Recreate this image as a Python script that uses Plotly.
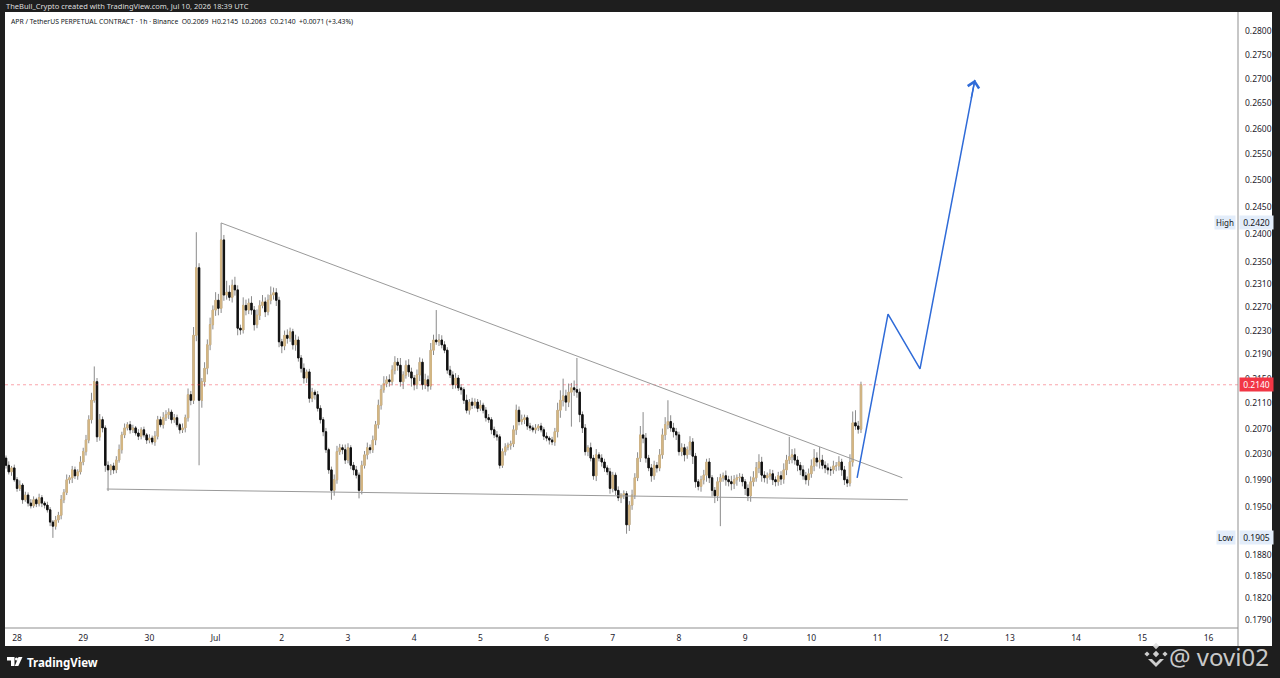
import numpy as np
import pandas as pd
import plotly.graph_objects as go

# APR/USDT perp, 1h candles, Jun 27 20:00 -> Jul 10 18:00 (UTC)
start_time = "2026-06-27 20:00"
first_open = 0.2024

closes = [
    0.2013, 0.2003, 0.2009, 0.1991, 0.1978, 0.1983, 0.1961, 0.1968, 0.1956, 0.1952,
    0.1961, 0.1955, 0.1964, 0.1956, 0.1953, 0.1946, 0.1928, 0.1922, 0.1931, 0.1938,
    0.1961, 0.1972, 0.1991, 0.1994, 0.2006, 0.1997, 0.2003, 0.2018, 0.2034, 0.2052,
    0.2084, 0.2115, 0.2145, 0.2057, 0.2084, 0.2071, 0.2013, 0.2006, 0.2012, 0.2006,
    0.2021, 0.2037, 0.2060, 0.2071, 0.2076, 0.2068, 0.2071, 0.2063, 0.2058, 0.2068,
    0.2060, 0.2052, 0.2055, 0.2049, 0.2058, 0.2084, 0.2076, 0.2087, 0.2092, 0.2096,
    0.2084, 0.2087, 0.2076, 0.2068, 0.2071, 0.2087, 0.2124, 0.2115, 0.2222, 0.2339,
    0.2115, 0.2145, 0.2167, 0.2206, 0.2240, 0.2265, 0.2282, 0.2268, 0.2389, 0.2291,
    0.2296, 0.2287, 0.2308, 0.2300, 0.2234, 0.2231, 0.2273, 0.2265, 0.2277, 0.2265,
    0.2240, 0.2256, 0.2273, 0.2279, 0.2262, 0.2282, 0.2291, 0.2295, 0.2282, 0.2211,
    0.2204, 0.2222, 0.2217, 0.2228, 0.2206, 0.2214, 0.2184, 0.2167, 0.2151, 0.2161,
    0.2118, 0.2128, 0.2124, 0.2102, 0.2084, 0.2065, 0.2037, 0.2006, 0.1975, 0.1991,
    0.2034, 0.2040, 0.2037, 0.2021, 0.2040, 0.2013, 0.2006, 0.1998, 0.1975, 0.2013,
    0.2029, 0.2040, 0.2037, 0.2052, 0.2076, 0.2107, 0.2132, 0.2142, 0.2148, 0.2145,
    0.2164, 0.2177, 0.2172, 0.2145, 0.2156, 0.2172, 0.2161, 0.2151, 0.2140, 0.2156,
    0.2177, 0.2140, 0.2148, 0.2138, 0.2197, 0.2214, 0.2211, 0.2214, 0.2206, 0.2197,
    0.2164, 0.2156, 0.2140, 0.2151, 0.2135, 0.2132, 0.2115, 0.2099, 0.2112, 0.2107,
    0.2112, 0.2102, 0.2107, 0.2099, 0.2087, 0.2084, 0.2068, 0.2060, 0.2057, 0.2013,
    0.2034, 0.2041, 0.2044, 0.2046, 0.2068, 0.2099, 0.2081, 0.2084, 0.2087, 0.2074,
    0.2071, 0.2068, 0.2071, 0.2074, 0.2068, 0.2058, 0.2055, 0.2052, 0.2049, 0.2065,
    0.2099, 0.2115, 0.2122, 0.2112, 0.2128, 0.2135, 0.2132, 0.2128, 0.2092, 0.2071,
    0.2034, 0.2040, 0.2024, 0.1997, 0.2029, 0.2024, 0.2018, 0.2009, 0.2003, 0.1978,
    0.1998, 0.1975, 0.1964, 0.1968, 0.1970, 0.1924, 0.1953, 0.1968, 0.1994, 0.2024,
    0.2060, 0.2055, 0.2024, 0.2009, 0.1997, 0.2013, 0.2009, 0.2029, 0.2060, 0.2076,
    0.2081, 0.2071, 0.2065, 0.2060, 0.2034, 0.2040, 0.2029, 0.2037, 0.2049, 0.2027,
    0.1988, 0.1981, 0.1991, 0.1998, 0.2018, 0.1994, 0.1975, 0.1967, 0.1988, 0.1994,
    0.1997, 0.1991, 0.1988, 0.1985, 0.1991, 0.1994, 0.1995, 0.1988, 0.1978, 0.1967,
    0.1988, 0.1994, 0.2009, 0.2018, 0.1998, 0.1994, 0.1997, 0.2000, 0.1991, 0.1988,
    0.1997, 0.1992, 0.2006, 0.2021, 0.2026, 0.2029, 0.2021, 0.2013, 0.2006, 0.1997,
    0.1991, 0.2000, 0.2012, 0.2024, 0.2018, 0.2021, 0.2013, 0.2009, 0.2006, 0.2006,
    0.2012, 0.2012, 0.2018, 0.2006, 0.1991, 0.1986, 0.2018, 0.2079, 0.2074, 0.2069,
    0.2140,
]

# wick lengths above / below the body, in units of 0.0001
wick_up = [
    4, 6, 3, 5, 4, 7, 3, 5, 4, 6,
    5, 3, 6, 4, 3, 5, 4, 3, 6, 5,
    7, 5, 8, 4, 6, 5, 4, 9, 6, 8,
    7, 12, 25, 6, 9, 5, 4, 6, 3, 5,
    6, 8, 5, 7, 4, 6, 5, 3, 6, 4,
    5, 3, 6, 4, 8, 6, 5, 9, 7, 6,
    4, 6, 5, 3, 7, 5, 10, 6, 14, 64,
    8, 6, 10, 9, 12, 8, 14, 11, 31, 9,
    20, 12, 10, 15, 8, 6, 14, 10, 8, 12,
    7, 10, 9, 12, 8, 10, 15, 9, 8, 6,
    5, 8, 10, 7, 5, 9, 6, 5, 8, 4,
    5, 7, 4, 6, 5, 4, 6, 3, 5, 8,
    9, 6, 5, 8, 7, 4, 5, 6, 4, 7,
    6, 8, 5, 7, 6, 9, 8, 12, 6, 9,
    8, 10, 7, 12, 6, 8, 10, 7, 5, 9,
    8, 6, 10, 7, 12, 9, 51, 10, 8, 6,
    5, 7, 6, 8, 5, 6, 4, 9, 5, 7,
    6, 5, 8, 4, 5, 6, 4, 5, 6, 4,
    5, 6, 4, 5, 7, 9, 6, 8, 5, 4,
    5, 4, 6, 3, 5, 4, 6, 3, 5, 6,
    12, 16, 28, 10, 14, 8, 12, 52, 6, 5,
    6, 4, 8, 5, 9, 4, 6, 5, 4, 6,
    5, 4, 6, 3, 5, 4, 6, 8, 7, 9,
    14, 36, 8, 5, 6, 7, 5, 9, 10, 12,
    34, 10, 8, 6, 5, 7, 6, 5, 9, 6,
    5, 4, 6, 8, 5, 6, 4, 5, 7, 6,
    5, 8, 6, 9, 7, 5, 6, 5, 4, 6,
    8, 10, 9, 12, 8, 6, 5, 7, 6, 5,
    6, 7, 10, 8, 31, 9, 10, 6, 5, 7,
    6, 8, 10, 14, 9, 20, 8, 6, 7, 5,
    8, 6, 9, 5, 6, 5, 12, 18, 20, 8,
    5,
]
wick_dn = [
    5, 4, 6, 3, 5, 4, 6, 3, 5, 4,
    3, 5, 4, 6, 5, 4, 6, 17, 5, 4,
    6, 5, 4, 6, 8, 5, 6, 4, 5, 6,
    5, 6, 4, 8, 6, 7, 10, 32, 8, 6,
    5, 4, 6, 5, 4, 6, 5, 4, 6, 5,
    4, 6, 5, 4, 6, 5, 4, 6, 5, 7,
    6, 5, 4, 6, 5, 7, 6, 8, 6, 10,
    102, 12, 8, 10, 9, 8, 10, 12, 8, 10,
    8, 6, 9, 10, 12, 8, 6, 9, 7, 8,
    10, 6, 8, 5, 9, 6, 7, 8, 10, 9,
    12, 7, 9, 6, 8, 10, 6, 7, 9, 8,
    7, 6, 8, 5, 6, 7, 5, 6, 14, 8,
    6, 5, 7, 6, 5, 6, 8, 5, 12, 6,
    5, 7, 6, 5, 8, 6, 7, 5, 6, 8,
    6, 7, 9, 8, 12, 6, 8, 14, 9, 7,
    10, 8, 7, 9, 6, 8, 5, 7, 6, 5,
    6, 5, 7, 6, 5, 8, 6, 5, 7, 6,
    5, 6, 4, 5, 6, 5, 7, 5, 6, 5,
    4, 6, 5, 7, 5, 8, 6, 5, 7, 6,
    5, 4, 6, 5, 4, 6, 5, 7, 5, 6,
    9, 12, 10, 14, 8, 55, 10, 9, 12, 8,
    6, 7, 5, 6, 8, 5, 7, 6, 5, 8,
    6, 7, 5, 8, 6, 13, 9, 7, 6, 5,
    6, 8, 7, 5, 9, 6, 7, 5, 6, 8,
    7, 6, 9, 8, 6, 7, 10, 6, 8, 12,
    9, 6, 8, 7, 10, 8, 9, 11, 8, 66,
    6, 9, 7, 10, 8, 9, 6, 7, 10, 8,
    9, 7, 6, 8, 10, 7, 9, 6, 8, 7,
    6, 9, 7, 8, 6, 10, 7, 9, 8, 6,
    7, 9, 6, 8, 7, 10, 6, 8, 7, 9,
    6, 8, 7, 9, 8, 6, 5, 7, 6, 7,
    6,
]

# drawings on the chart
upper_line_t = ["2026-07-01 02:00", "2026-07-11 09:00"]
upper_line_p = [0.2420, 0.1994]
lower_line_t = ["2026-06-29 08:30", "2026-07-11 11:00"]
lower_line_p = [0.1977, 0.1961]
arrow_t = ["2026-07-10 16:36", "2026-07-11 03:48", "2026-07-11 15:24", "2026-07-12 11:18"]
arrow_p = [0.1994, 0.2258, 0.2166, 0.2698]

price_ticks = [0.2800, 0.2750, 0.2700, 0.2650, 0.2600, 0.2550, 0.2500, 0.2450, 0.2400,
               0.2350, 0.2310, 0.2270, 0.2230, 0.2190, 0.2150, 0.2110, 0.2070, 0.2030,
               0.1990, 0.1950, 0.1880, 0.1850, 0.1820, 0.1790]
day_ticks = pd.date_range("2026-06-28", "2026-07-16", freq="D")
day_labels = ["28", "29", "30", "Jul", "2", "3", "4", "5", "6", "7", "8", "9", "10",
              "11", "12", "13", "14", "15", "16"]

times = pd.date_range(start_time, periods=len(closes), freq="h")
opens = [first_open] + closes[:-1]
highs = [round(max(o, c) + w / 10000, 4) for o, c, w in zip(opens, closes, wick_up)]
lows = [round(min(o, c) - w / 10000, 4) for o, c, w in zip(opens, closes, wick_dn)]
body_top = [max(o, c) for o, c in zip(opens, closes)]
body_bot = [min(o, c) for o, c in zip(opens, closes)]

UP = "#d4b683"
DOWN = "#111111"
WICK = "#8a8a8a"
BLUE = "#2f6bd8"
FONT = "Noto Sans"

# pixel -> paper helpers (plot area is x 5..1238, y 12..628)
L, R, T, B = 5, 42, 12, 50
W, H = 1280 - L - R, 678 - T - B


def px(x):
    return (x - L) / W


def py(y):
    return (678 - B - y) / H


fig = go.Figure()

# wicks (gray) then bodies on top
fig.add_trace(go.Candlestick(
    x=times, open=opens, high=highs, low=lows, close=closes,
    increasing=dict(line=dict(color=WICK, width=1), fillcolor=UP),
    decreasing=dict(line=dict(color=WICK, width=1), fillcolor=DOWN),
    whiskerwidth=0, hoverinfo="skip", showlegend=False,
))
fig.add_trace(go.Candlestick(
    x=times, open=opens, high=body_top, low=body_bot, close=closes,
    increasing=dict(line=dict(color=UP, width=1), fillcolor=UP),
    decreasing=dict(line=dict(color=DOWN, width=1), fillcolor=DOWN),
    whiskerwidth=0, hoverinfo="skip", showlegend=False,
))

x_range = ["2026-06-27 19:38", "2026-07-16 10:42"]

# last price dotted line
fig.add_trace(go.Scatter(
    x=x_range, y=[closes[-1], closes[-1]], mode="lines",
    line=dict(color="rgba(242,54,69,0.45)", width=1, dash="dot"),
    hoverinfo="skip", showlegend=False,
))
# falling wedge lines
fig.add_trace(go.Scatter(x=upper_line_t, y=upper_line_p, mode="lines",
                         line=dict(color="#9a9a9a", width=1), hoverinfo="skip", showlegend=False))
fig.add_trace(go.Scatter(x=lower_line_t, y=lower_line_p, mode="lines",
                         line=dict(color="#9a9a9a", width=1), hoverinfo="skip", showlegend=False))
# projection path
fig.add_trace(go.Scatter(x=arrow_t, y=arrow_p, mode="lines",
                         line=dict(color=BLUE, width=1.5), hoverinfo="skip", showlegend=False))

shapes = [
    dict(type="rect", xref="paper", yref="paper", x0=px(5), x1=px(1272), y0=py(646), y1=py(12),
         fillcolor="white", line=dict(width=0), layer="below"),
    dict(type="line", xref="paper", yref="paper", x0=px(1238), x1=px(1238), y0=py(646), y1=py(12),
         line=dict(color="#8f8f8f", width=1)),
    dict(type="line", xref="paper", yref="paper", x0=px(5), x1=px(1238), y0=py(628), y1=py(628),
         line=dict(color="#8f8f8f", width=1)),
]


def pix_path(points):
    return "M " + " L ".join(f"{px(a):.5f},{py(b):.5f}" for a, b in points) + " Z"


# TradingView logo (rough)
for pts in ([(7, 657), (14.5, 657), (14.5, 666), (11, 666), (11, 660.5), (7, 660.5)],
            [(18.5, 657), (22.5, 657), (18.3, 666), (14.8, 666)]):
    shapes.append(dict(type="path", xref="paper", yref="paper", path=pix_path(pts),
                       fillcolor="white", line=dict(width=0)))
shapes.append(dict(type="circle", xref="paper", yref="paper", x0=px(15), x1=px(18),
                   y0=py(660.5), y1=py(657.5), fillcolor="white", line=dict(width=0)))

# Binance-like mark next to the watermark
mark = "rgba(225,225,225,0.9)"
for cx, cy, r in [(1156, 646, 3.2), (1147, 654, 2.6), (1156, 654, 3.2), (1165, 654, 2.6)]:
    shapes.append(dict(type="path", xref="paper", yref="paper",
                       path=pix_path([(cx, cy - r), (cx + r, cy), (cx, cy + r), (cx - r, cy)]),
                       fillcolor=mark, line=dict(width=0)))
shapes.append(dict(type="path", xref="paper", yref="paper",
                   path=pix_path([(1148, 659), (1156, 667), (1164, 659), (1160, 659),
                                  (1156, 663), (1152, 659)]),
                   fillcolor=mark, line=dict(width=0)))

chg = closes[-1] - closes[-2]
header = (f"APR / TetherUS PERPETUAL CONTRACT · 1h · Binance  "
          f"O{opens[-1]:.4f}  H{highs[-1]:.4f}  L{lows[-1]:.4f}  C{closes[-1]:.4f}  "
          f"+{chg:.4f} (+{chg / closes[-2] * 100:.2f}%)")

hi, lo = max(highs), min(lows)
label_bg = "#e3edfa"
annotations = [
    dict(xref="paper", yref="paper", x=px(4), y=py(6), xanchor="left", yanchor="middle",
         text="TheBull_Crypto created with TradingView.com, Jul 10, 2026 18:39 UTC",
         showarrow=False, font=dict(size=7.5, color="#dedede")),
    dict(xref="paper", yref="paper", x=px(9), y=py(21), xanchor="left", yanchor="middle",
         text=header, showarrow=False, font=dict(size=6.8, color="#131722")),
    dict(xref="paper", yref="y", x=px(1239), y=np.log10(closes[-1]), text=f"{closes[-1]:.4f}",
         xanchor="left", yanchor="middle", showarrow=False, bgcolor="#f23645",
         font=dict(size=8.5, color="white"), width=31, borderpad=1),
    dict(xref="paper", yref="y", x=px(1236), y=np.log10(hi), text="High", showarrow=False,
         xanchor="right", yanchor="middle",
         bgcolor=label_bg, font=dict(size=8, color="#131722"), borderpad=1),
    dict(xref="paper", yref="y", x=px(1239), y=np.log10(hi), text=f"{hi:.4f}", showarrow=False,
         xanchor="left", yanchor="middle",
         bgcolor=label_bg, font=dict(size=8.5, color="#131722"), width=31, borderpad=1),
    dict(xref="paper", yref="y", x=px(1236), y=np.log10(lo), text="Low", showarrow=False,
         xanchor="right", yanchor="middle",
         bgcolor=label_bg, font=dict(size=8, color="#131722"), borderpad=1),
    dict(xref="paper", yref="y", x=px(1239), y=np.log10(lo), text=f"{lo:.4f}", showarrow=False,
         xanchor="left", yanchor="middle",
         bgcolor=label_bg, font=dict(size=8.5, color="#131722"), width=31, borderpad=1),
    # arrow head of the projection
    dict(xref="x", yref="y", x=arrow_t[-1], y=np.log10(arrow_p[-1]), ax=-4, ay=20,
         text="", showarrow=True, arrowhead=4, arrowsize=1.6, arrowwidth=1.4,
         arrowcolor=BLUE, standoff=0),
    dict(xref="paper", yref="paper", x=px(25), y=py(662), xanchor="left", yanchor="middle",
         text="<b>TradingView</b>", showarrow=False, font=dict(size=11.5, color="white")),
    dict(xref="paper", yref="paper", x=px(1271), y=py(656), xanchor="right", yanchor="middle",
         text="@ vovi02", showarrow=False, font=dict(size=24, color=mark)),
]

fig.update_layout(
    width=1280, height=678,
    margin=dict(l=L, r=R, t=T, b=B),
    paper_bgcolor="#1e1e1e", plot_bgcolor="white",
    font=dict(family=FONT),
    showlegend=False,
    shapes=shapes, annotations=annotations,
    xaxis=dict(
        type="date", range=x_range, rangeslider=dict(visible=False),
        tickvals=day_ticks, ticktext=day_labels, showgrid=False, zeroline=False,
        ticks="", tickfont=dict(size=8.5, color="#1e222d"), ticklabelstandoff=3,
    ),
    yaxis=dict(
        type="log", side="right",
        range=[np.log10(0.17789), np.log10(0.28407)],
        tickvals=price_ticks, ticktext=[f"{v:.4f}" for v in price_ticks],
        showgrid=False, zeroline=False, ticks="",
        tickfont=dict(size=8.5, color="#1e222d"), ticklabelstandoff=6,
    ),
)

# the page's default body margin would shift the figure
fig.write_html("out.html", config={"displayModeBar": False},
               post_script="document.body.style.margin='0';")
